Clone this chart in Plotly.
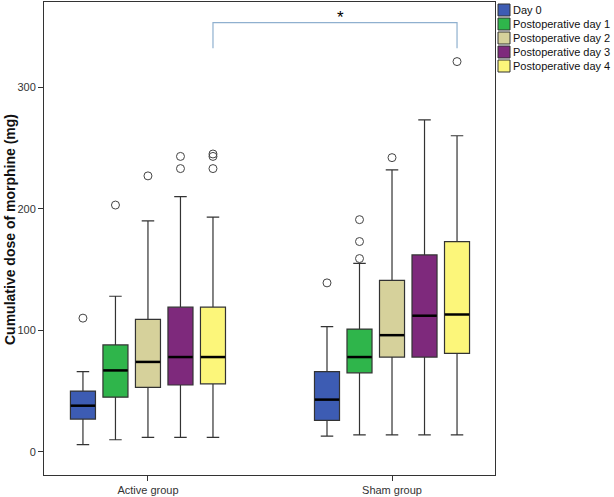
import plotly.graph_objects as go

groups = ["Active group", "Sham group"]
days = ["Day 0", "Postoperative day 1", "Postoperative day 2",
        "Postoperative day 3", "Postoperative day 4"]
colors = ["#3d5cb3", "#2fb54b", "#d6d19b", "#7e297c", "#fcf67a"]

# per day: [Active, Sham]
lower = [[6, 13], [10, 14], [12, 14], [12, 14], [12, 14]]
q1 = [[27, 26], [45, 65], [53, 78], [55, 78], [56, 81]]
median = [[38, 43], [67, 78], [74, 96], [78, 112], [78, 113]]
q3 = [[50, 66], [88, 101], [109, 141], [119, 162], [119, 173]]
upper = [[66, 103], [128, 155], [190, 232], [210, 273], [193, 260]]
outliers = [
    [(0, 110), (1, 139)],
    [(0, 203), (1, 191), (1, 173), (1, 159)],
    [(0, 227), (1, 242)],
    [(0, 233), (0, 243)],
    [(0, 233), (0, 243), (0, 245), (1, 321)],
]
bracket_y = [332, 353, 353, 332]

W, H = 614, 497
ML, MR, MT, MB = 44, 119, 2, 22
PW, PH = W - ML - MR, H - MT - MB

def px_x(px):
    return (px - ML) / PW

def px_y(py):
    return (H - MB - py) / PH

fig = go.Figure()
for i, d in enumerate(days):
    fig.add_trace(go.Box(
        name=d, x=groups, q1=q1[i], median=median[i], q3=q3[i],
        lowerfence=lower[i], upperfence=upper[i],
        fillcolor=colors[i], line=dict(color="#333333", width=1.2),
        whiskerwidth=0.5, offsetgroup=f"d{i}", boxpoints=False,
        showlegend=False,
    ))
for i, d in enumerate(days):
    fig.add_trace(go.Scatter(
        x=groups, y=median[i], mode="markers", offsetgroup=f"d{i}",
        marker=dict(symbol="line-ew-open", size=17.5, color="black",
                    line=dict(color="black", width=2.5)),
        showlegend=False, hoverinfo="skip",
    ))
    fig.add_trace(go.Scatter(
        x=[groups[g] for g, v in outliers[i]], y=[v for g, v in outliers[i]],
        mode="markers", offsetgroup=f"d{i}",
        marker=dict(symbol="circle-open", size=8, color="#444444", line=dict(width=1)),
        showlegend=False,
    ))
fig.add_trace(go.Scatter(
    x=[groups[0], groups[0], groups[1], groups[1]], y=bracket_y,
    mode="lines", offsetgroup="d4", line=dict(color="#8fb0cf", width=1.2),
    showlegend=False, hoverinfo="skip",
))
fig.add_annotation(text="*", x=px_x(340), xref="paper", y=bracket_y[1], yref="y",
                   yanchor="bottom", showarrow=False, yshift=-6,
                   font=dict(size=17, color="black", family="Liberation Sans"))

# y-axis title
fig.add_annotation(text="<b>Cumulative dose of morphine (mg)</b>", textangle=-90,
                   x=px_x(10), y=px_y(230), xref="paper", yref="paper",
                   xanchor="center", yanchor="middle", showarrow=False,
                   font=dict(size=14, color="#111111"))

# manual legend
for i, d in enumerate(days):
    yc = 10 + 14 * i
    fig.add_shape(type="rect", xref="paper", yref="paper",
                  x0=px_x(498), x1=px_x(510), y0=px_y(yc + 6), y1=px_y(yc - 6),
                  fillcolor=colors[i], line=dict(color="#333333", width=1))
    fig.add_annotation(text=d, x=px_x(511), y=px_y(yc), xref="paper", yref="paper",
                       xanchor="left", yanchor="middle", showarrow=False,
                       font=dict(size=11, color="#111111"))

fig.update_layout(
    width=W, height=H, plot_bgcolor="white", paper_bgcolor="white",
    margin=dict(l=ML, r=MR, t=MT, b=MB),
    boxmode="group", boxgap=0.334, boxgroupgap=0.23,
    scattermode="group", scattergap=0.334,
    font=dict(family="Liberation Sans, Arial", size=11, color="#333333"),
    showlegend=False,
)
fig.update_xaxes(type="category", range=[-0.426, 1.422], showline=True,
                 linecolor="#333333", linewidth=1, mirror=True, ticks="outside",
                 ticklen=5, tickcolor="#333333", showgrid=False, automargin=False)
fig.update_yaxes(range=[-19, 370], showline=True, linecolor="#333333", linewidth=1,
                 mirror=True, ticks="outside", ticklen=5, tickcolor="#333333",
                 tickvals=[0, 100, 200, 300], showgrid=False, zeroline=False,
                 automargin=False)
fig.write_html("out.html", config={"displayModeBar": False},
               post_script="document.body.style.margin='0';document.body.style.padding='0';")
